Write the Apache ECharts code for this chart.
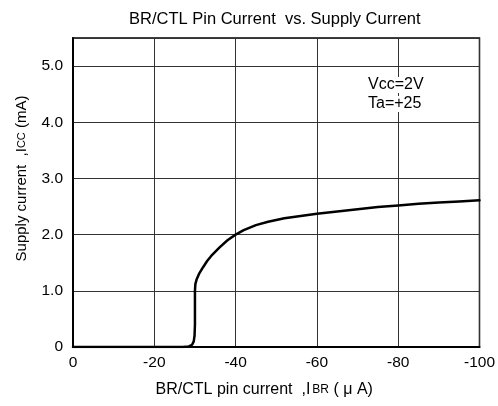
<!DOCTYPE html>
<html>
<head>
<meta charset="utf-8">
<script src="https://cdn.jsdelivr.net/npm/echarts@6/dist/echarts.min.js"></script>
<style>
  html, body { margin: 0; padding: 0; background: #fff; }
  #chart { width: 498px; height: 406px; }
</style>
</head>
<body>
<div id="chart"></div>
<script>
// BR/CTL pin current (uA) vs supply current (mA)
const pinCurrent = [0, -10, -20, -27, -28.5, -29.3, -29.7, -29.9, -30, -30, -30.1, -30.4, -31, -32, -33, -34, -36, -38, -40, -42, -45, -48, -52, -56, -60, -65, -70, -75, -80, -85, -90, -95, -100]
const supplyCurrent = [0, 0, 0, 0, 0.01, 0.04, 0.1, 0.2, 0.4, 1.0, 1.12, 1.2, 1.3, 1.42, 1.53, 1.62, 1.77, 1.9, 2.0, 2.08, 2.17, 2.23, 2.29, 2.33, 2.37, 2.41, 2.45, 2.49, 2.52, 2.55, 2.57, 2.59, 2.61]
const xTicks = [0, -20, -40, -60, -80, -100]
const yTicks = [0, 1, 2, 3, 4, 5]
const notes = ['Vcc=2V', 'Ta=+25']

const FONT = '"Liberation Sans", Arial, sans-serif'

const myChart = echarts.init(document.getElementById('chart'))
myChart.setOption({
  animation: false,
  title: {
    text: 'BR/CTL Pin Current  vs. Supply Current',
    left: 124,
    top: 6,
    textStyle: { fontFamily: FONT, fontSize: 16.5, fontWeight: 'normal', color: '#000' }
  },
  grid: {
    left: 73,
    right: 17,
    top: 38,
    bottom: 59,
    show: true,
    borderColor: '#000',
    borderWidth: 1.5
  },
  // condition notes, each line on a white box that hides the grid line
  graphic: notes.map((t, i) => ({
    type: 'text',
    left: 367,
    top: 77 + i * 19,
    z: 10,
    style: {
      text: t, fontFamily: FONT, fontSize: 16, fill: '#000',
      backgroundColor: '#fff', padding: [0, 1, 0, 1]
    }
  })),
  xAxis: {
    type: 'value',
    min: -100,
    max: 0,
    interval: 20,
    inverse: true,
    name: 'BR/CTL pin current  ,I{s|BR} ( μ A)',
    nameLocation: 'middle',
    nameGap: 35,
    nameTextStyle: {
      fontFamily: FONT, fontSize: 16, color: '#000',
      padding: [0, 24, 0, 0],
      rich: { s: { fontFamily: FONT, fontSize: 12, color: '#000', padding: [0, 0, 0, 2] } }
    },
    axisLine: { show: true, lineStyle: { color: '#000', width: 2 } },
    axisTick: { show: false },
    axisLabel: {
      fontFamily: FONT, fontSize: 15.5, color: '#000', margin: 8,
      formatter: v => xTicks.includes(v) ? String(v) : ''
    },
    splitLine: { show: true, lineStyle: { color: '#333', width: 1 } }
  },
  yAxis: {
    type: 'value',
    min: 0,
    max: 5.5,
    interval: 1,
    name: 'Supply current  ,I{s|CC} (mA)',
    nameLocation: 'middle',
    nameGap: 44,
    nameRotate: 90,
    nameTextStyle: {
      fontFamily: FONT, fontSize: 15, color: '#000',
      padding: [0, 0, 0, 28],
      rich: { s: { fontFamily: FONT, fontSize: 11, color: '#000' } }
    },
    axisLine: { show: true, lineStyle: { color: '#000', width: 2 } },
    axisTick: { show: false },
    showMaxLabel: false,
    axisLabel: {
      fontFamily: FONT, fontSize: 15.5, color: '#000', margin: 10,
      formatter: v => yTicks.includes(v) ? (v === 0 ? '0' : v.toFixed(1)) : ''
    },
    splitLine: { show: true, lineStyle: { color: '#333', width: 1 } }
  },
  series: [
    {
      type: 'line',
      data: pinCurrent.map((x, i) => [x, supplyCurrent[i]]),
      symbol: 'none',
      smooth: false,
      lineStyle: { color: '#000', width: 2.5, join: 'round', cap: 'round' }
    }
  ]
})
</script>
</body>
</html>
